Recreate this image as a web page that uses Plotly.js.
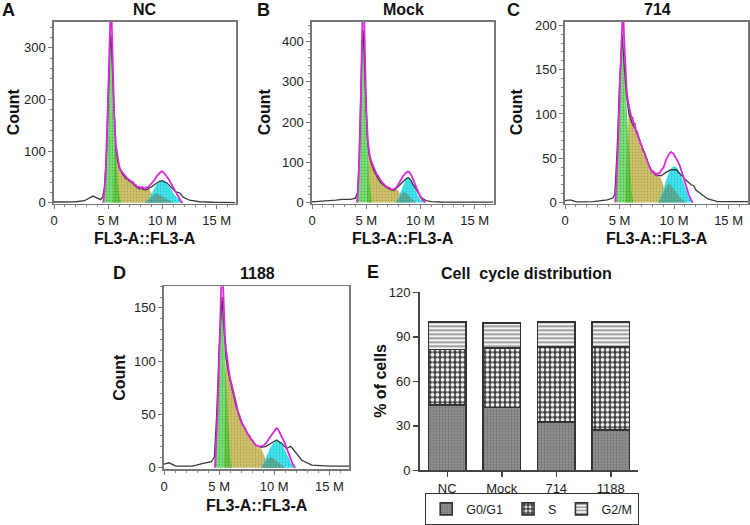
<!DOCTYPE html>
<html><head><meta charset="utf-8">
<script src="https://cdn.plot.ly/plotly-3.0.1.min.js"></script>
<style>html,body{margin:0;padding:0;background:#fff}#chart{width:750px;height:525px}</style>
</head><body><div id="chart"></div>
<script>
// ---------- Data (x in millions, y = count) ----------
const X_TICKS = [0, 5, 10, 15];
const X_TICK_TEXT = ['0', '5 M', '10 M', '15 M'];

// Panel A: NC
const A_RAW = [[0,1.5],[1,1.5],[2,2],[2.8,4],[3.3,9],[3.6,13],[3.9,10],[4.3,6],[4.5,12],[4.65,30],[4.85,100],[5.03,226],[5.15,300],[5.25,325],[5.4,255],[5.55,163],[5.7,108],[5.85,83],[6.0,68],[6.3,56],[6.6,48],[6.94,42],[7.25,38],[7.56,31],[7.87,27],[8.1,28],[8.33,25],[8.6,26],[8.8,28],[9.0,31],[9.26,35],[9.5,39],[9.75,42],[10.0,43],[10.2,41],[10.45,38],[10.8,30],[11.25,21],[11.6,19],[11.9,11],[12.5,5],[13.4,2],[14.7,1],[16.7,0.5]];
const A_FIT = [[4.55,0],[4.75,50],[4.95,180],[5.1,300],[5.2,365],[5.3,365],[5.42,260],[5.55,168],[5.7,112],[5.85,86],[6.0,72],[6.15,63],[6.3,59],[6.45,53],[6.6,51],[6.8,46],[6.94,45],[7.1,41],[7.25,41],[7.4,36],[7.56,34],[7.7,30],[7.87,31],[8.0,28],[8.15,31],[8.33,27],[8.5,30],[8.65,29],[8.8,33],[9.0,37],[9.26,44],[9.5,52],[9.72,58],[9.9,61],[10.1,59],[10.34,53],[10.6,45],[10.8,37],[11.05,27],[11.27,18],[11.5,9],[11.73,2],[11.9,0]];
const A_G1 = [[4.55,0],[4.7,25],[4.85,100],[5.0,210],[5.12,290],[5.25,322],[5.38,270],[5.5,195],[5.62,130],[5.75,80],[5.9,38],[6.05,12],[6.2,0]];
const A_S = [[5.45,0],[5.6,140],[5.7,110],[5.85,84],[6.0,70],[6.15,61],[6.3,57],[6.45,51],[6.6,49],[6.8,44],[6.94,43],[7.1,39],[7.25,39],[7.4,34],[7.56,32],[7.7,28],[7.87,29],[8.0,26],[8.15,29],[8.33,25],[8.5,28],[8.65,27],[8.8,26],[9.0,18],[9.2,8],[9.4,0]];
const A_G2 = [[8.5,0],[8.8,9],[9.05,19],[9.3,30],[9.55,38],[9.8,42],[10.0,43],[10.25,41],[10.5,35],[10.8,26],[11.1,16],[11.4,8],[11.7,2],[11.95,0]];
const A_OV = [[8.35,0],[8.8,7],[9.2,15],[9.45,19],[9.7,16],[10.1,10],[10.5,5],[11.0,0]];

// Panel B: Mock
const B_RAW = [[0,2],[0.7,3],[1.4,4],[2.2,6],[2.8,8],[3.55,8],[4.0,11],[4.2,25],[4.35,110],[4.5,270],[4.62,390],[4.72,428],[4.82,360],[4.95,240],[5.1,160],[5.25,120],[5.4,103],[5.7,80],[5.95,67],[6.17,56],[6.4,48],[6.6,43],[6.85,38],[7.1,34],[7.3,31],[7.5,30],[7.7,33],[8.0,40],[8.25,48],[8.5,55],[8.75,61],[8.9,62],[9.1,56],[9.3,46],[9.5,36],[9.72,26],[9.95,17],[10.2,10],[10.5,5],[11.0,2.5],[11.9,1.5],[16.7,1]];
const B_FIT = [[4.15,0],[4.3,60],[4.45,200],[4.57,340],[4.66,470],[4.8,470],[4.9,330],[5.0,235],[5.15,155],[5.3,120],[5.45,104],[5.6,92],[5.75,84],[5.95,71],[6.1,66],[6.25,58],[6.4,52],[6.55,48],[6.7,44],[6.85,41],[7.0,37],[7.15,37],[7.3,33],[7.45,32],[7.6,34],[7.75,37],[7.95,45],[8.18,56],[8.4,66],[8.64,74],[8.85,77],[9.0,75],[9.2,66],[9.4,52],[9.6,38],[9.8,25],[10.0,14],[10.2,6],[10.45,0]];
const B_G1 = [[4.15,0],[4.3,60],[4.45,200],[4.6,360],[4.72,428],[4.88,330],[5.03,200],[5.18,105],[5.3,48],[5.42,12],[5.52,0]];
const B_S = [[5.05,0],[5.2,140],[5.3,120],[5.45,103],[5.6,91],[5.75,83],[5.95,70],[6.1,65],[6.25,57],[6.4,51],[6.55,47],[6.7,43],[6.85,40],[7.0,36],[7.15,36],[7.3,32],[7.45,31],[7.6,32],[7.75,33],[7.95,30],[8.15,20],[8.35,8],[8.5,0]];
const B_G2 = [[7.8,0],[8.0,12],[8.2,28],[8.4,42],[8.6,55],[8.8,62],[9.0,60],[9.2,50],[9.4,38],[9.6,26],[9.8,15],[10.0,7],[10.2,2],[10.35,0]];
const B_OV = [[7.7,0],[8.0,12],[8.3,23],[8.5,27],[8.75,22],[9.1,12],[9.4,4],[9.6,0]];

// Panel C: 714
const C_RAW = [[0,2.2],[0.46,3],[1.08,0.7],[2.6,1],[3.86,3],[4.4,5],[4.57,10],[4.78,59],[5.0,134],[5.19,186],[5.25,190],[5.4,160],[5.62,123],[5.86,100],[6.17,89],[6.48,82],[6.94,67],[7.4,52],[7.87,37],[8.33,31],[8.8,30],[9.26,34],[9.72,37],[10.2,37],[10.65,31],[11.1,25],[11.57,20],[11.8,19],[12.0,14],[12.5,9],[13.1,4],[14.0,1],[16.8,1]];
const C_FIT = [[4.62,0],[4.85,59],[5.03,134],[5.15,200],[5.22,225],[5.32,225],[5.42,185],[5.55,150],[5.65,128],[5.75,116],[5.86,108],[6.0,102],[6.1,95],[6.17,97],[6.3,88],[6.4,90],[6.48,82],[6.6,80],[6.7,75],[6.8,73],[6.94,66],[7.05,64],[7.15,58],[7.3,56],[7.4,52],[7.5,47],[7.6,45],[7.75,40],[7.87,38],[8.0,34],[8.1,35],[8.2,32],[8.33,33],[8.45,31],[8.55,33],[8.7,33],[8.8,36],[9.05,40],[9.26,48],[9.5,54],[9.72,57],[9.95,55],[10.2,50],[10.45,44],[10.65,37],[10.9,27],[11.1,18],[11.35,9],[11.57,3],[11.7,0]];
const C_G1 = [[4.62,0],[4.8,45],[4.95,110],[5.1,168],[5.22,188],[5.35,170],[5.5,140],[5.65,112],[5.8,82],[5.95,45],[6.1,15],[6.25,0]];
const C_S = [[5.5,0],[5.85,106],[6.0,100],[6.17,91],[6.3,87],[6.48,81],[6.7,74],[6.94,65],[7.15,57],[7.4,51],[7.6,43],[7.87,37],[8.1,32],[8.33,31],[8.55,30],[8.8,27],[9.0,20],[9.2,10],[9.35,0]];
const C_G2 = [[8.6,0],[8.85,8],[9.1,18],[9.35,28],[9.6,36],[9.85,40],[10.05,41],[10.3,39],[10.55,33],[10.8,25],[11.05,16],[11.3,8],[11.55,3],[11.75,0]];
const C_OV = [[8.55,0],[8.9,9],[9.25,17],[9.55,22],[9.8,18],[10.2,11],[10.6,5],[11.1,0]];

// Panel D: 1188
const D_RAW = [[0,3.4],[0.46,4.6],[1.08,1.5],[2.6,1.5],[3.55,4],[4.3,5.6],[4.57,10],[4.78,50],[5.0,112],[5.2,156],[5.27,160],[5.4,137],[5.62,103],[5.86,88],[6.17,75],[6.48,60],[6.94,44],[7.4,35],[7.87,27],[8.33,21],[8.8,19],[9.26,20],[9.72,23],[10.2,26],[10.65,23],[11.1,18],[11.5,20],[11.9,15],[12.5,7],[13.4,2.5],[15,1.5],[16.8,1.5]];
const D_FIT = [[4.62,0],[4.85,50],[5.03,112],[5.15,165],[5.22,182],[5.32,182],[5.42,150],[5.52,125],[5.62,112],[5.75,98],[5.86,92],[6.0,84],[6.1,80],[6.17,76],[6.3,71],[6.4,68],[6.48,63],[6.6,58],[6.7,53],[6.8,50],[6.94,45],[7.05,43],[7.15,40],[7.3,38],[7.4,35],[7.5,34],[7.6,31],[7.75,30],[7.87,27],[8.0,26],[8.1,24],[8.2,23],[8.33,21],[8.45,21],[8.55,20],[8.7,20],[8.8,20],[9.05,21],[9.26,23],[9.5,27],[9.72,30],[9.95,34],[10.2,37],[10.35,36],[10.5,33],[10.75,28],[10.96,23],[11.2,16],[11.4,10],[11.65,4],[11.9,0]];
const D_G1 = [[4.62,0],[4.8,40],[4.95,95],[5.1,140],[5.25,158],[5.4,135],[5.55,100],[5.7,65],[5.85,32],[6.0,10],[6.15,0]];
const D_S = [[5.45,0],[5.62,105],[5.75,97],[5.86,91],[6.0,83],[6.1,79],[6.17,75],[6.3,70],[6.4,67],[6.48,62],[6.6,57],[6.7,52],[6.8,49],[6.94,44],[7.05,42],[7.15,39],[7.3,37],[7.4,34],[7.5,33],[7.6,30],[7.75,29],[7.87,26],[8.0,25],[8.1,23],[8.2,22],[8.33,20],[8.55,19],[8.8,18],[9.0,14],[9.25,7],[9.45,0]];
const D_G2 = [[8.85,0],[9.1,6],[9.35,12],[9.6,18],[9.85,22],[10.1,25],[10.3,26],[10.55,24],[10.8,20],[11.05,15],[11.3,9],[11.55,4],[11.8,1],[11.95,0]];
const D_OV = [[8.8,0],[9.1,5],[9.4,8.5],[9.7,10],[10.0,8],[10.4,5],[10.7,2],[11.0,0]];

// Panel E: cell cycle distribution (%)
const E_GROUPS = ['NC', 'Mock', '714', '1188'];
const E_G0G1 = [44, 42.3, 32.5, 27];
const E_S = [37.5, 40, 50.5, 56];
const E_G2M = [18.5, 17, 17, 17];
const E_Y_TICKS = [0, 30, 60, 90, 120];

// ---------- Styling / layout ----------
const FONT = '"Liberation Sans", Arial, Helvetica, sans-serif';
const W = 750, H = 525;
const px = v => v / W;
const py = v => 1 - v / H;

const COL_S = '#cdc16c';
const COL_G1 = 'rgba(40,200,40,0.62)';
const COL_G2 = '#40e4ec';
const COL_OV = '#5aae9c';
const COL_RAW = '#3a3a3a';
const COL_FIT = '#d82ad8';

function fillTrace(pts, n, color, dot) {
  return {type: 'scatter', mode: 'lines', x: pts.map(p => p[0]), y: pts.map(p => p[1]),
    xaxis: 'x' + n, yaxis: 'y' + n, fill: 'tozeroy', fillcolor: color,
    fillpattern: {shape: '.', size: 3, solidity: 0.18, fgcolor: dot, bgcolor: color},
    line: {width: 0, color: color}, hoverinfo: 'skip', showlegend: false};
}
function lineTrace(pts, n, color, w) {
  return {type: 'scatter', mode: 'lines', x: pts.map(p => p[0]), y: pts.map(p => p[1]),
    xaxis: 'x' + n, yaxis: 'y' + n, line: {width: w, color: color}, hoverinfo: 'skip', showlegend: false};
}

const panels = [
  {n: '', raw: A_RAW, fit: A_FIT, g1: A_G1, s: A_S, g2: A_G2, ov: A_OV},
  {n: '2', raw: B_RAW, fit: B_FIT, g1: B_G1, s: B_S, g2: B_G2, ov: B_OV},
  {n: '3', raw: C_RAW, fit: C_FIT, g1: C_G1, s: C_S, g2: C_G2, ov: C_OV},
  {n: '4', raw: D_RAW, fit: D_FIT, g1: D_G1, s: D_S, g2: D_G2, ov: D_OV}
];

const traces = [];
panels.forEach(p => {
  traces.push(fillTrace(p.s, p.n, COL_S, '#a89a48'));
  traces.push(fillTrace(p.g1, p.n, COL_G1, 'rgba(30,140,30,0.6)'));
  traces.push(fillTrace(p.g2, p.n, COL_G2, '#25b8c4'));
  traces.push(fillTrace(p.ov, p.n, COL_OV, '#3f8c7c'));
  traces.push(lineTrace(p.raw, p.n, COL_RAW, 1.3));
  traces.push(lineTrace(p.fit, p.n, COL_FIT, 1.8));
});

// Stacked bars
const barLine = {color: '#333', width: 1.6};
traces.push({type: 'bar', name: 'G0/G1', x: E_GROUPS, y: E_G0G1, xaxis: 'x5', yaxis: 'y5', width: 0.69,
  marker: {color: '#8a8a8a', line: barLine, pattern: {shape: '.', fgcolor: '#6a6a6a', bgcolor: '#929292', size: 3, solidity: 0.3}}});
traces.push({type: 'bar', name: 'S', x: E_GROUPS, y: E_S, xaxis: 'x5', yaxis: 'y5', width: 0.69,
  marker: {color: '#555', line: barLine, pattern: {shape: '.', fgcolor: '#f0f0f0', bgcolor: '#3e3e3e', size: 5, solidity: 0.45}}});
traces.push({type: 'bar', name: 'G2/M', x: E_GROUPS, y: E_G2M, xaxis: 'x5', yaxis: 'y5', width: 0.69,
  marker: {color: '#ddd', line: barLine, pattern: {shape: '-', fgcolor: '#8a8a8a', bgcolor: '#f4f4f4', size: 4, solidity: 0.4}}});

function histX(n, x0, x1) {
  return {anchor: 'y' + n, domain: [px(x0), px(x1)], range: [0, 16.78], tickvals: X_TICKS, ticktext: X_TICK_TEXT,
    showline: true, mirror: true, linecolor: '#777', linewidth: 1.6, ticks: 'outside', ticklen: 4,
    tickcolor: '#777', tickfont: {family: FONT, size: 13, color: '#222'}, showgrid: false, zeroline: false,
    minor: {dtick: 1, ticks: 'outside', ticklen: 2, tickcolor: '#888'}, fixedrange: true};
}
function histY(n, y0, y1, range, dtick, minor) {
  return {anchor: 'x' + n, domain: [py(y1), py(y0)], range: range, dtick: dtick, tick0: 0,
    showline: true, mirror: true, linecolor: '#777', linewidth: 1.6, ticks: 'outside', ticklen: 4,
    tickcolor: '#777', tickfont: {family: FONT, size: 13, color: '#222'}, showgrid: false, zeroline: false,
    minor: {dtick: minor, ticks: 'outside', ticklen: 2, tickcolor: '#888'}, fixedrange: true};
}

const ann = [];
function txt(x, y, text, size, bold, angle) {
  ann.push({xref: 'paper', yref: 'paper', x: px(x), y: py(y), xanchor: 'center', yanchor: 'middle',
    text: bold ? '<b>' + text + '</b>' : text, showarrow: false, textangle: angle || 0,
    font: {family: FONT, size: size, color: '#111'}});
}
// panel letters
txt(8, 10, 'A', 18, true); txt(263, 10, 'B', 18, true); txt(513, 10, 'C', 18, true);
txt(119, 275, 'D', 18, true); txt(373, 274, 'E', 18, true);
// titles
txt(145, 10, 'NC', 16, true); txt(403, 10, 'Mock', 16, true); txt(657, 10, '714', 16, true);
txt(257, 275, '1188', 16, true); txt(526, 275, 'Cell&nbsp;&nbsp;cycle distribution', 16, true);
// axis titles
txt(145, 240, 'FL3-A::FL3-A', 16, true); txt(403, 240, 'FL3-A::FL3-A', 16, true);
txt(657, 240, 'FL3-A::FL3-A', 16, true); txt(257, 508, 'FL3-A::FL3-A', 16, true);
txt(13, 113, 'Count', 16, true, -90); txt(264, 113, 'Count', 16, true, -90);
txt(516, 113, 'Count', 16, true, -90); txt(120, 380, 'Count', 16, true, -90);
txt(381, 383, '% of cells', 16, true, -90);

const layout = {
  width: W, height: H, margin: {l: 0, r: 0, t: 0, b: 0}, paper_bgcolor: '#fff', plot_bgcolor: '#fff',
  font: {family: FONT, color: '#222'}, barmode: 'stack', bargap: 0.3,
  xaxis: histX('', 54, 236), yaxis: histY('', 22, 205, [-2, 350], 100, 20),
  xaxis2: histX('2', 312, 494), yaxis2: histY('2', 22, 205, [-3, 449], 100, 20),
  xaxis3: histX('3', 565, 748), yaxis3: histY('3', 22, 205, [-1.5, 204], 50, 10),
  xaxis4: histX('4', 164, 349), yaxis4: histY('4', 288, 472, [-1.5, 170], 50, 10),
  xaxis5: {anchor: 'y5', domain: [px(420), px(638)], type: 'category', range: [-0.5, 3.5], showline: true,
    linecolor: '#444', linewidth: 2, ticks: 'outside', ticklen: 5, tickwidth: 1.5, tickcolor: '#444',
    tickfont: {family: FONT, size: 13, color: '#222'}, showgrid: false, zeroline: false, fixedrange: true},
  yaxis5: {anchor: 'x5', domain: [py(473), py(294)], range: [0, 120], tickvals: E_Y_TICKS, showline: true,
    linecolor: '#444', linewidth: 2, ticks: 'outside', ticklen: 5, tickwidth: 1.5, tickcolor: '#444',
    tickfont: {family: FONT, size: 13, color: '#222'}, showgrid: false, zeroline: false, fixedrange: true},
  showlegend: true,
  legend: {orientation: 'h', x: px(425), y: py(496), xanchor: 'left', yanchor: 'top',
    bordercolor: '#333', borderwidth: 1.2, bgcolor: '#fff', font: {family: FONT, size: 12.5, color: '#222'},
    itemwidth: 30, traceorder: 'normal', tracegroupgap: 0},
  annotations: ann
};

Plotly.newPlot('chart', traces, layout, {staticPlot: true, displayModeBar: false});
</script>
</body></html>
